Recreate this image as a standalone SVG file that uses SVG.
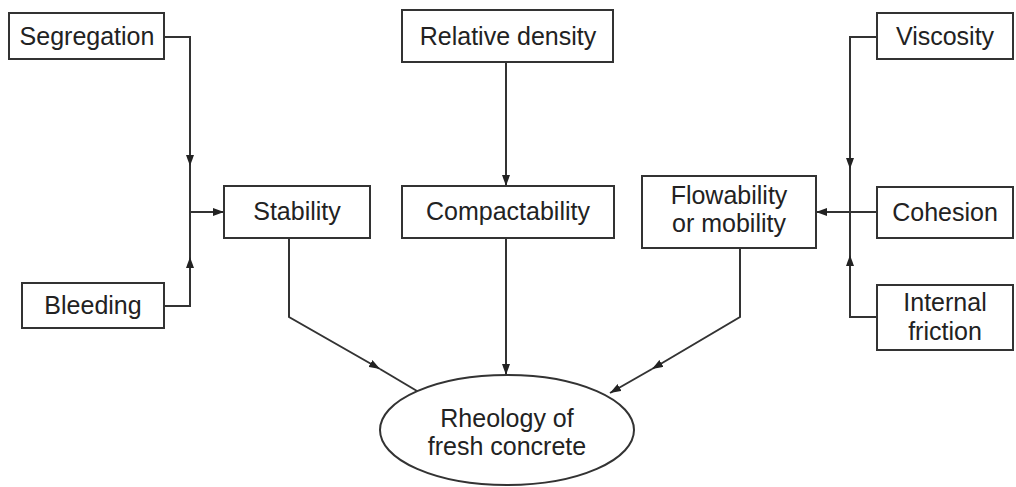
<svg xmlns="http://www.w3.org/2000/svg" width="1016" height="487" viewBox="0 0 1016 487">
<style>
.box{fill:#fff;stroke:#333;stroke-width:2}
.t{font-family:"Liberation Sans",Arial,sans-serif;font-size:25px;fill:#222;text-anchor:middle}
.c{fill:none;stroke:#333;stroke-width:2}
</style>
<defs>
<marker id="ah" markerUnits="userSpaceOnUse" markerWidth="12" markerHeight="8" refX="11" refY="4" orient="auto">
<path d="M0,0 L11,4 L0,8 z" fill="#222"/>
</marker>
</defs>
<rect width="1016" height="487" fill="#fff"/>
<g id="connectors">
<path class="c" d="M164,37 H190 V166" marker-end="url(#ah)"/>
<path class="c" d="M190,166 V306"/>
<path class="c" d="M164,306 H190 V257" marker-end="url(#ah)"/>
<path class="c" d="M190,212 H224" marker-end="url(#ah)"/>
<path class="c" d="M506,62 V186" marker-end="url(#ah)"/>
<path class="c" d="M877,37 H850 V169" marker-end="url(#ah)"/>
<path class="c" d="M850,169 V317"/>
<path class="c" d="M877,317 H850 V255" marker-end="url(#ah)"/>
<path class="c" d="M877,212 H816" marker-end="url(#ah)"/>
<path class="c" d="M289,238 V317 L380,369" marker-end="url(#ah)"/>
<path class="c" d="M380,369 L417,391"/>
<path class="c" d="M506,238 V375" marker-end="url(#ah)"/>
<path class="c" d="M740,248 V317 L652,369" marker-end="url(#ah)"/>
<path class="c" d="M652,369 L610,393" marker-end="url(#ah)"/>
</g>
<g id="segregation"><rect class="box" x="9" y="13" width="155" height="46"/><text class="t" x="87" y="45">Segregation</text></g>
<g id="bleeding"><rect class="box" x="22" y="283" width="142" height="45"/><text class="t" x="93" y="314">Bleeding</text></g>
<g id="relative-density"><rect class="box" x="402" y="10" width="211" height="52"/><text class="t" x="508" y="45">Relative density</text></g>
<g id="stability"><rect class="box" x="224" y="186" width="146" height="52"/><text class="t" x="297" y="220">Stability</text></g>
<g id="compactability"><rect class="box" x="402" y="186" width="212" height="52"/><text class="t" x="508" y="220">Compactability</text></g>
<g id="flowability"><rect class="box" x="642" y="176" width="174" height="72"/><text class="t" x="729" y="204">Flowability</text><text class="t" x="729" y="232">or mobility</text></g>
<g id="viscosity"><rect class="box" x="877" y="13" width="136" height="46"/><text class="t" x="945" y="45">Viscosity</text></g>
<g id="cohesion"><rect class="box" x="877" y="187" width="136" height="51"/><text class="t" x="945" y="221">Cohesion</text></g>
<g id="internal-friction"><rect class="box" x="877" y="285" width="136" height="65"/><text class="t" x="945" y="311">Internal</text><text class="t" x="945" y="340">friction</text></g>
<g id="rheology"><ellipse class="box" cx="507" cy="430" rx="127" ry="55"/><text class="t" x="507" y="427">Rheology of</text><text class="t" x="507" y="455">fresh concrete</text></g>
</svg>
